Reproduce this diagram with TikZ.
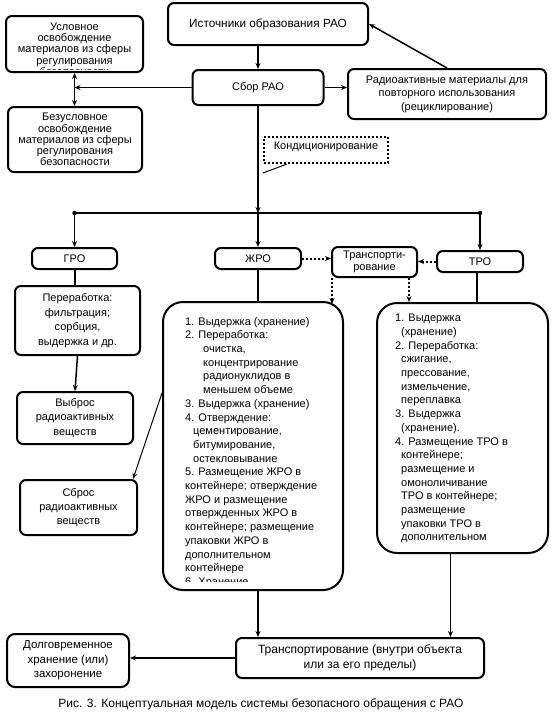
\documentclass[tikz,border=0pt]{standalone}
\usepackage{fontspec}
\setmainfont{Liberation Sans}
\usetikzlibrary{arrows.meta, positioning}

\tikzset{
  block/.style={draw, line width=2pt, rounded corners=6pt, align=center, inner sep=2pt,
    font=\fontsize{11}{13.5}\selectfont},
  tightblock/.style={block, font=\fontsize{11}{11.2}\selectfont},
  bigblock/.style={draw, line width=2pt, rounded corners=20pt},
  dotblock/.style={draw, line width=2pt, dash pattern=on 2pt off 2pt, inner xsep=2pt, inner ysep=0pt,
    font=\fontsize{11}{13.5}\selectfont},
  listtext/.style={anchor=north west, inner sep=0pt, align=left, font=\fontsize{11}{13.7}\selectfont},
  link/.style={line width=1.5pt, -{Stealth[length=6pt, width=5pt]}},
  dotlink/.style={line width=2pt, dash pattern=on 2pt off 2pt, -{Stealth[length=6pt, width=5pt]}},
  plain/.style={line width=2pt},
}

\begin{document}
\begin{tikzpicture}[x=1pt, y=-1pt]
    \useasboundingbox (0,0) rectangle (554,720);

    % top row
    \node[block, minimum width=200pt, minimum height=42pt, font=\fontsize{11.8}{13.5}\selectfont] (ist) at (268,24) {Источники образования РАО};
    \node[block, minimum width=131pt, minimum height=35pt] (sbor) at (258,87.5) {Сбор РАО};
    \node[block, minimum width=198pt, minimum height=50pt] (recyc) at (447,94)
        {Радиоактивные материалы для\\повторного использования\\(рециклирование)};

    % release from regulation
    \node[block, minimum width=137pt, minimum height=56pt] (usl) at (74.5,44) {};
    \begin{scope}
        \clip (usl.west |- 0,18) rectangle (usl.east |- 0,69);
        \node[tightblock, draw=none, anchor=north] at (74.5,20)
            {Условное\\освобождение\\материалов из сферы\\регулирования\\безопасности};
    \end{scope}
    \node[tightblock, minimum width=134pt, minimum height=65pt] (bezusl) at (75,139.5)
        {Безусловное\\освобождение\\материалов из сферы\\регулирования\\безопасности};

    \node[dotblock, minimum width=124pt, text height=12pt, text depth=14pt] (kond) at (326,150) {Кондиционирование};

    % waste classes
    \node[block, minimum width=85pt, minimum height=21pt] (gro) at (74.5,258.5) {ГРО};
    \node[block, minimum width=86pt, minimum height=21pt] (zhro) at (258,258.5) {ЖРО};
    \node[block, minimum width=85pt, minimum height=30pt, font=\fontsize{11}{12.5}\selectfont] (trsm) at (374.5,262)
        {Транспорти-\\рование};
    \node[block, minimum width=86pt, minimum height=21pt] (tro) at (480,261.5) {ТРО};

    % gaseous
    \node[block, minimum width=125pt, minimum height=69pt, font=\fontsize{11}{14.5}\selectfont] (perer) at (77.5,320.5)
        {Переработка:\\фильтрация;\\сорбция,\\выдержка и др.};
    \node[block, minimum width=116pt, minimum height=52pt, font=\fontsize{11}{14.5}\selectfont] (vybros) at (75,418)
        {Выброс\\радиоактивных\\веществ};
    \node[block, minimum width=117pt, minimum height=55pt, font=\fontsize{11}{14}\selectfont] (sbros) at (78.5,507.5)
        {Сброс\\радиоактивных\\веществ};

    % liquid
    \node[bigblock, minimum width=180pt, minimum height=288pt] (zhrobig) at (253,446) {};
    \begin{scope}
        \clip (zhrobig.west |- 0,305) rectangle (zhrobig.east |- 0,581);
        \node[listtext] at (185,317) {1. Выдержка (хранение)\\
            2. Переработка:\\
            \hspace*{18pt}очистка,\\
            \hspace*{18pt}концентрирование\\
            \hspace*{18pt}радионуклидов в\\
            \hspace*{18pt}меньшем объеме\\
            3. Выдержка (хранение)\\
            4. Отверждение:\\
            \hspace*{8pt}цементирование,\\
            \hspace*{8pt}битумирование,\\
            \hspace*{8pt}остекловывание\\
            5. Размещение ЖРО в\\
            контейнере; отверждение\\
            ЖРО и размещение\\
            отвержденных ЖРО в\\
            контейнере; размещение\\
            упаковки ЖРО в\\
            дополнительном\\
            контейнере\\
            6. Хранение};
    \end{scope}

    % solid
    \node[bigblock, minimum width=171pt, minimum height=250pt] (trobig) at (462.5,428) {};
    \node[listtext] at (395,314) {1. Выдержка\\
        \hspace*{6pt}(хранение)\\
        2. Переработка:\\
        \hspace*{6pt}сжигание,\\
        \hspace*{6pt}прессование,\\
        \hspace*{6pt}измельчение,\\
        \hspace*{6pt}переплавка\\
        3. Выдержка\\
        \hspace*{6pt}(хранение).\\
        4. Размещение ТРО в\\
        \hspace*{6pt}контейнере;\\
        \hspace*{6pt}размещение и\\
        \hspace*{6pt}омоноличивание\\
        \hspace*{6pt}ТРО в контейнере;\\
        \hspace*{6pt}размещение\\
        \hspace*{6pt}упаковки ТРО в\\
        \hspace*{6pt}дополнительном};

    % bottom row
    \node[block, minimum width=248pt, minimum height=40pt, font=\fontsize{12}{15}\selectfont] (transp) at (360,658)
        {Транспортирование (внутри объекта\\или за его пределы)};
    \node[block, minimum width=122pt, minimum height=53pt, rounded corners=8pt, font=\fontsize{11.5}{14.5}\selectfont] (dolg) at (68,660.5)
        {Долговременное\\хранение (или)\\захоронение};

    \node[font=\fontsize{12}{13}\selectfont] (caption) at (261,704)
        {Рис. 3. Концептуальная модель системы безопасного обращения с РАО};

    % connectors at the top
    \draw[link] (sbor.north |- ist.south) -- (sbor.north);
    \draw[link] (sbor.east) -- (recyc.west |- sbor.east);
    \draw[link] (recyc.north) -- (ist.east);
    \draw[link] (sbor.west) -- (usl.south |- sbor.west);
    \draw[link, {Stealth[length=6pt, width=5pt]}-{Stealth[length=6pt, width=5pt]}] (usl.south) -- (usl.south |- bezusl.north);
    \draw[line width=1pt] ([yshift=-9pt]kond.south west) -- ([xshift=24pt]kond.south west);

    % split into classes
    \coordinate (split) at (258,213);
    \draw[link] (sbor.south) -- (split);
    \draw[link] (split) -- (zhro.north);
    \draw[plain, line width=1.5pt] (gro.north |- split) -- (tro.north |- split);
    \fill (gro.north |- split) circle (2.2pt);
    \fill (tro.north |- split) circle (2.2pt);
    \draw[link] (gro.north |- split) -- (gro.north);
    \draw[link] (tro.north |- split) -- (tro.north);

    % transport between classes
    \draw[dotlink] (zhro.east) -- (trsm.west |- zhro.east);
    \draw[dotlink] (tro.west) -- (trsm.east |- tro.west);
    \draw[dotlink] ([xshift=1pt]trsm.south west) -- ([xshift=1pt,yshift=-3pt]trsm.south west |- zhrobig.north);
    \draw[dotlink] ([xshift=-9pt]trsm.south east) -- ([xshift=-9pt]trsm.south east |- trobig.north);

    % class branches
    \draw[plain] (zhro.south) -- (zhro.south |- zhrobig.north);
    \draw[plain] ([xshift=-3pt]tro.south) -- ([xshift=-3pt]tro.south |- trobig.north);
    \draw[plain] (gro.south) -- (gro.south |- perer.north);
    \draw[link] (perer.south) -- (vybros.north);
    \draw[link, line width=1pt] ([yshift=53pt]zhrobig.west) -- ([xshift=-5pt]sbros.north east);

    % to transport and disposal
    \draw[link] ([xshift=5pt]zhrobig.south) -- ([xshift=5pt]zhrobig.south |- transp.north);
    \draw[link] ([xshift=-12pt]trobig.south) -- ([xshift=-12pt]trobig.south |- transp.north);
    \draw[link] (transp.west) -- (dolg.east |- transp.west);
\end{tikzpicture}
\end{document}
